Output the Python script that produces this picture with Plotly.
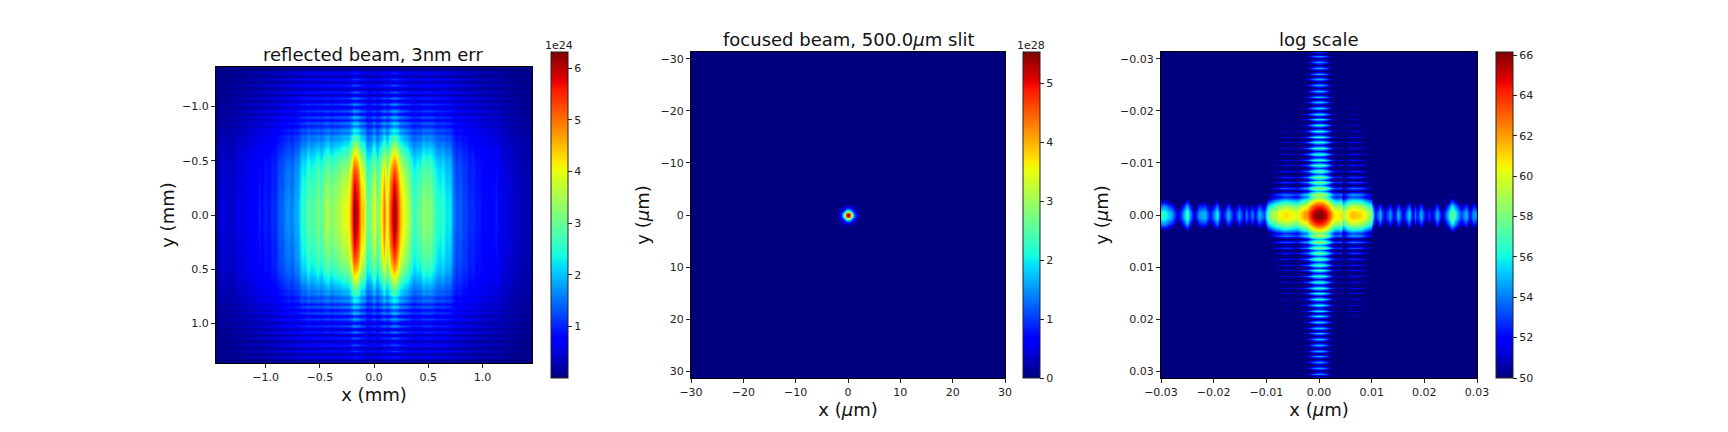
import numpy as np
import plotly.graph_objects as go

W, H = 1728, 432
PAD = 8   # default page margin around the plot
ML, MR, MT, MB = 130, 140, 12, 46

# ---- Readings from the picture (colour -> colourbar value) ----
# Panel 1: intensity (units of 1e24) along y = 0, evenly spaced in x
reflected_x_values = [
    .15,.3,.6,.4,.5,.35,.55,.65,.5,.7,.65,.75,.7,.95,.8,1.0,.85,1.1,1.0,1.4,
    1.35,1.6,1.7,1.55,1.85,1.9,2.6,2.5,3.0,2.7,2.9,3.2,2.8,3.4,3.6,3.1,3.5,3.5,3.7,4.0,
    3.9,4.9,6.2,5.7,4.4,4.3,2.9,3.2,4.1,3.0,4.0,5.0,3.9,5.2,6.2,5.6,4.5,4.0,3.7,3.2,
    2.6,2.9,2.8,3.4,3.1,3.3,2.9,2.5,2.4,2.6,2.2,2.3,1.6,1.3,1.4,1.2,1.2,1.0,1.1,.9,
    .95,.8,.85,.7,.75,.95,.65,.55,.6,.5,.4,.45,.3,.35,.25,.3,.12]
# Panel 1: relative intensity vs |y|, read outer edge -> centre
reflected_y_abs = [1.368 - 0.029 * k for k in range(48)]
reflected_y_rel = [
    .02,.04,.13,.04,.15,.05,.17,.05,.18,.06,.21,.07,.23,.09,.25,.12,.28,.16,.31,.21,
    .35,.30,.41,.40,.47,.50,.56,.61,.66,.70,.74,.77,.80,.83,.86,.88,.90,.92,.94,.95,
    .96,.97,.98,.99,.995,1,1,1]
# Panel 1: the blue floor that stays away from the axes, read along |x| (edge -> centre)
reflected_floor_x = [
    .04,.07,.14,.08,.16,.11,.20,.14,.24,.18,.30,.22,.34,.26,.38,.30,.42,.34,.45,.38,
    .48,.42,.50,.45,.50,.46,.50,.46,.50,.46,.48,.44,.46,.42,.44,.40,.42,.38,.40,.36,
    .38,.35,.36,.34,.36,.34,.36,.34,.36]
# ...and its strength along |y|, outer edge -> centre
reflected_floor_y = [
    .05,.15,.60,.20,.65,.25,.70,.30,.75,.35,.80,.40,.85,.50,.85,.55,.85,.65,.85,.70,
    .85,.75,.80,.75,.70,.65,.60,.55,.50,.45,.40,.35,.30,.25,.20,.15,.10,.05,0,0,
    0,0,0,0,0,0,0,0]

# Panel 2: intensity (units of 1e28) along the axis through the spot
spot_r = [0, .33, .66, 1.0, 1.32, 1.65, 2.0, 2.3, 2.6, 3.3, 32]
spot_v = [5.5, 4.9, 3.4, 1.9, .9, .4, .15, .05, .01, 0, 0]

# Panel 3: log intensity along y = 0
log_x_nodes = [
    -.0302,-.0294,-.0280,-.0267,-.0251,-.0238,-.0227,-.0216,-.0207,-.0194,-.0184,-.0172,-.0162,-.0151,
    -.0143,-.0138,-.0133,-.0127,-.0121,-.0113,-.0105,-.0096,-.0083,-.0064,-.0042,-.0028,-.0023,-.0017,-.0011,-.0006,0,
    .0006,.0011,.0017,.0023,.0029,.0034,.0041,.0046,.0053,.0063,.0079,.0098,.0107,.0115,.0124,.0134,.0142,.0150,
    .0159,.0171,.0179,.0183,.0186,.0194,.0204,.0209,.0215,.0224,.0234,.0253,.0269,.0280,.0287,.0293,.0302]
log_x_values = [
    56,56.5,54.5,51,57,51,54.5,55,52,56,51,55,51.5,54.5,
    51.5,54,52,54,52,55,53,57.5,59.5,61,60,62,62.3,64,65.2,66,66.15,
    66,65.2,64,62.3,60.8,60.5,61,58.5,60.5,61.5,61,58.5,52,55,51.5,54.5,51.5,55,
    51.5,55.5,51.5,54,52,55,51,53,51,55,51,58,53,55,52,54.5,54]
# Panel 3: log intensity along x = 0, read |y| from the centre outward
log_y_abs = [
    0,.00058,.00115,.00173,.0023,.0029,.0034,.0040,.00460,.00515,.00570,.00625,.00680,.00735,.00790,.00845,.00900,.00955,
    .01010,.01065,.01120,.01175,.01230,.01285,.01340,.01395,.01450,.01505,.01560,.01615,.01670,.01725,
    .01780,.01835,.01890,.01945,.02000,.02055,.02110,.02165,.02220,.02275,.02330,.02385,.02440,.02495,
    .02550,.02605,.02660,.02715,.02770,.02825,.02880,.02935,.02990,.03045,.03100,.03155]
log_y_values = [
    66.15,66,65,64,62.3,60.5,58,59.2,55,58.6,54.5,58,54,57.6,53.5,57.3,53,57,
    52.5,56.9,52.2,56.8,52,56.7,51.8,56.6,51.6,56.4,51.4,56.2,51.2,56,
    51,55.8,50.8,55.6,50.6,55.4,50.5,55.2,50.4,55,50.3,54.9,50.2,54.8,
    50.2,54.7,50.1,54.6,50,54.5,50,54.4,50,54.3,50,54.2]

titles = ["reflected beam, 3nm err", "focused beam, 500.0<i>μ</i>m slit", "log scale"]
xlabels = ["x (mm)", "x (<i>μ</i>m)", "x (<i>μ</i>m)"]
ylabels = ["y (mm)", "y (<i>μ</i>m)", "y (<i>μ</i>m)"]
ticks1 = [-1.0, -0.5, 0.0, 0.5, 1.0]
ticks2 = [-30, -20, -10, 0, 10, 20, 30]
ticks3 = [-0.03, -0.02, -0.01, 0.0, 0.01, 0.02, 0.03]
cb_ticks = [[1, 2, 3, 4, 5, 6], [0, 1, 2, 3, 4, 5], list(range(50, 67, 2))]
offsets = ["1e24", "1e28", ""]

# matplotlib 'jet'
_p = [0, .11, .125, .34, .35, .375, .64, .65, .66, .89, .91, 1]
_r = np.interp(_p, [0, .35, .66, .89, 1], [0, 0, 1, 1, .5])
_g = np.interp(_p, [0, .125, .375, .64, .91, 1], [0, 0, 1, 1, 0, 0])
_b = np.interp(_p, [0, .11, .34, .65, 1], [.5, 1, 1, 0, 0])
jet = [[p, f"rgb({int(r*255)},{int(g*255)},{int(b*255)})"] for p, r, g, b in zip(_p, _r, _g, _b)]

# ---- Assemble the images from the axis readings ----
x1 = np.linspace(-1.457, 1.457, len(reflected_x_values))
y1 = np.array([-a for a in reflected_y_abs] + [a for a in reflected_y_abs[::-1]])
g1 = np.array(reflected_y_rel + reflected_y_rel[::-1])
fl_x = np.array(reflected_floor_x + reflected_floor_x[-2::-1])
fl_y = np.array(reflected_floor_y + reflected_floor_y[::-1])
z1 = np.outer(g1, reflected_x_values) + np.outer(fl_y, fl_x)

r2 = np.array(spot_r)
v2 = np.array(spot_v)
x2 = np.concatenate([-r2[:0:-1], r2])
f2 = np.concatenate([v2[:0:-1], v2])
z2 = np.outer(f2, f2) / 5.5

x3 = np.array(log_x_nodes)
xv3 = np.array(log_x_values)
ya = np.array(log_y_abs)
yv = np.array(log_y_values)
y3 = np.concatenate([-ya[:0:-1], ya])
yf3 = np.concatenate([yv[:0:-1], yv])
z3 = yf3[:, None] + xv3[None, :] - 66.15

FW, FH = W - 2 * PAD, H - 2 * PAD
def fx(p): return (p - PAD - ML) / (FW - ML - MR)
def fy(p): return 1 - (p - PAD - MT) / (FH - MT - MB)

panels = [
    dict(x=x1, y=y1, z=z1, zr=(0, 6.31), box=(216, 532, 67, 363), cb=(551, 378, 52),
         xr=[-1.457, 1.457], yr=[1.364, -1.364], xt=ticks1, yt=ticks1, fmt=".1f",
         tcx=373, tcy=55, ysd=2),
    dict(x=x2, y=x2, z=z2, zr=(0, 5.53), box=(691, 1005, 52, 378), cb=(1023, 378, 52),
         xr=[-30, 30], yr=[31.3, -31.3], xt=ticks2, yt=ticks2, fmt="d",
         tcx=848, tcy=39, ysd=6),
    dict(x=x3, y=y3, z=z3, zr=(50, 66.15), box=(1161, 1477, 52, 378), cb=(1496, 378, 52),
         xr=[-0.03, 0.03], yr=[0.0313, -0.0313], xt=ticks3, yt=ticks3, fmt=".2f",
         tcx=1319, tcy=39, ysd=6),
]

fig = go.Figure()
layout = dict(width=FW, height=FH, margin=dict(l=ML, r=MR, t=MT, b=MB, autoexpand=False),
              paper_bgcolor="white", plot_bgcolor="white", showlegend=False,
              font=dict(family="DejaVu Sans", color="#222222", size=11))
annotations = []
for i, p in enumerate(panels):
    n = "" if i == 0 else str(i + 1)
    L, R, T, B = p["box"]
    cx, cb, ct = p["cb"]
    fig.add_trace(go.Heatmap(
        x=p["x"], y=p["y"], z=p["z"], zmin=p["zr"][0], zmax=p["zr"][1],
        colorscale=jet, zsmooth="best", hoverinfo="skip",
        xaxis="x" + n, yaxis="y" + n,
        colorbar=dict(
            x=fx(cx), xanchor="left", xref="paper", y=fy(cb), yanchor="bottom", yref="paper",
            len=fy(ct) - fy(cb), lenmode="fraction", thickness=17, thicknessmode="pixels",
            tickvals=cb_ticks[i], ticks="outside", ticklen=4, tickwidth=1, tickcolor="#222222",
            tickfont=dict(size=11, family="DejaVu Sans", color="#222222"),
            outlinecolor="#222222", outlinewidth=1, xpad=0, ypad=0),
    ))
    axbase = dict(showgrid=False, zeroline=False, showline=True, mirror=True, linecolor="black",
                  linewidth=1, ticks="outside", ticklen=4, tickwidth=1, tickcolor="#222222",
                  tickfont=dict(size=11, family="DejaVu Sans", color="#222222"),
                  tickformat=p["fmt"], tickmode="array")
    layout["xaxis" + n] = dict(axbase, domain=[fx(L), fx(R)], range=p["xr"], tickvals=p["xt"],
                               anchor="y" + n,
                               title=dict(text=xlabels[i], font=dict(size=18, color="#111111"), standoff=3))
    layout["yaxis" + n] = dict(axbase, domain=[fy(B), fy(T)], range=p["yr"], tickvals=p["yt"],
                               anchor="x" + n,
                               title=dict(text=ylabels[i], font=dict(size=18, color="#111111"), standoff=p["ysd"]))
    annotations.append(dict(text=titles[i], x=fx(p["tcx"]), y=fy(p["tcy"]), xref="paper", yref="paper",
                            xanchor="center", yanchor="middle", showarrow=False,
                            font=dict(size=18, color="#111111")))
    if offsets[i]:
        annotations.append(dict(text=offsets[i], x=fx(cx + 8), y=fy(46), xref="paper", yref="paper",
                                xanchor="center", yanchor="middle", showarrow=False,
                                font=dict(size=11, color="#222222")))
layout["annotations"] = annotations
fig.update_layout(**layout)
fig.write_html("out.html")
